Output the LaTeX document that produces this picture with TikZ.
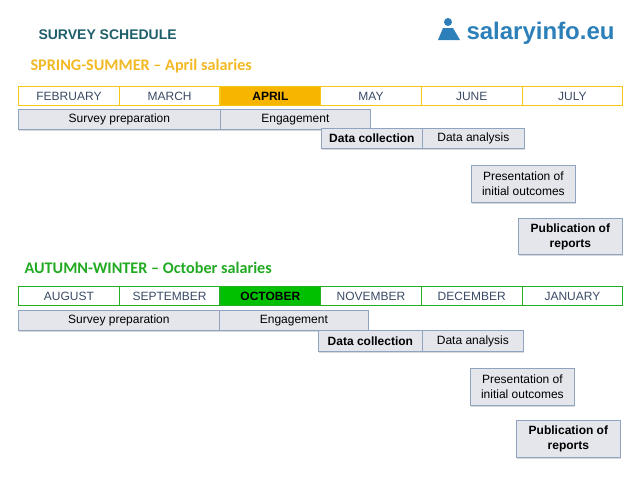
\documentclass[tikz,border=0pt]{standalone}
\usepackage{fontspec}
\setmainfont{Liberation Sans}
\newfontfamily\calfont{Carlito}
\usetikzlibrary{shadows}
\definecolor{ybord}{HTML}{F5C518}
\definecolor{yfill}{HTML}{F7B500}
\definecolor{gbord}{HTML}{22B022}
\definecolor{gfill}{HTML}{00C000}
\definecolor{bbord}{HTML}{8FA4C0}
\definecolor{bfill}{HTML}{E4E6EC}
\definecolor{teal}{HTML}{1F5F6B}
\definecolor{ttl}{HTML}{F2B925}
\definecolor{gtl}{HTML}{22AA22}
\definecolor{logo}{HTML}{2C7FB8}
\definecolor{mtext}{HTML}{3A4A66}
\tikzset{
 mon/.style={draw, line width=1.2pt, minimum height=19pt, anchor=north west, inner sep=0pt, font=\fontsize{12}{14}\selectfont, text=mtext},
 act/.style={draw=bbord, fill=bfill, line width=0.8pt, anchor=north west, inner sep=0pt, align=center, font=\fontsize{12}{15}\selectfont, drop shadow={shadow xshift=1pt, shadow yshift=-1.5pt, opacity=0.3}},
 bf/.style={font=\bfseries\fontsize{12}{15}\selectfont},
}
\begin{document}
\begin{tikzpicture}[x=1pt,y=-1pt]
\useasboundingbox (0,0) rectangle (638,479);
\node[anchor=west, text=teal, font=\bfseries\fontsize{14}{16}\selectfont] (t) at (35,35) {SURVEY SCHEDULE};
\node[anchor=west, text=logo, font=\bfseries\fontsize{24}{26}\selectfont] (logo) at (463,33) {salaryinfo.eu};
\fill[logo] (448,22) circle (4pt);
\fill[logo] (438,40) -- (443,28) -- (453,28) -- (460,40) -- cycle;
% spring
\node[anchor=west, text=ttl, font=\calfont\bfseries\fontsize{16.2}{18}\selectfont] (s) at (27,66) {SPRING-SUMMER – April salaries};
\foreach \n/\m [count=\i from 0] in {a/FEBRUARY,b/MARCH,c/APRIL,d/MAY,e/JUNE,f/JULY}
  \node[mon, draw=ybord, minimum width=100.7pt] (s\n) at (18+100.7*\i,86) {\m};
\node[mon, draw=ybord, fill=yfill, minimum width=100.7pt, font=\bfseries\fontsize{12}{14}\selectfont, text=black] at (sc.north west) {APRIL};
\node[act, minimum width=202pt, minimum height=20pt] (sp1) at (18,109) {Survey preparation};
\node[act, minimum width=150pt, minimum height=20pt] (sp2) at (220,109) {Engagement};
\node[act, bf, minimum width=101pt, minimum height=20pt] (sp3) at (321,128) {Data collection};
\node[act, minimum width=102pt, minimum height=20pt] (sp4) at (422,128) {Data analysis};
\node[act, minimum width=104pt, minimum height=37pt] (sp5) at (471,165) {Presentation of\\initial outcomes};
\node[act, bf, minimum width=104pt, minimum height=36pt] (sp6) at (518,218) {Publication of\\reports};
% autumn
\node[anchor=west, text=gtl, font=\calfont\bfseries\fontsize{16.2}{18}\selectfont] (a) at (21,268) {AUTUMN-WINTER – October salaries};
\foreach \n/\m [count=\i from 0] in {a/AUGUST,b/SEPTEMBER,c/OCTOBER,d/NOVEMBER,e/DECEMBER,f/JANUARY}
  \node[mon, draw=gbord, minimum width=100.7pt] (a\n) at (18+100.7*\i,286) {\m};
\node[mon, draw=gbord, fill=gfill, minimum width=100.7pt, font=\bfseries\fontsize{12}{14}\selectfont, text=black] at (ac.north west) {OCTOBER};
\node[act, minimum width=201pt, minimum height=20pt] (ap1) at (18,310) {Survey preparation};
\node[act, minimum width=149pt, minimum height=20pt] (ap2) at (219,310) {Engagement};
\node[act, bf, minimum width=104pt, minimum height=21pt] (ap3) at (318,330) {Data collection};
\node[act, minimum width=101pt, minimum height=21pt] (ap4) at (422,330) {Data analysis};
\node[act, minimum width=104pt, minimum height=37pt] (ap5) at (470,368) {Presentation of\\initial outcomes};
\node[act, bf, minimum width=104pt, minimum height=37pt] (ap6) at (516,420) {Publication of\\reports};
\end{tikzpicture}
\end{document}
